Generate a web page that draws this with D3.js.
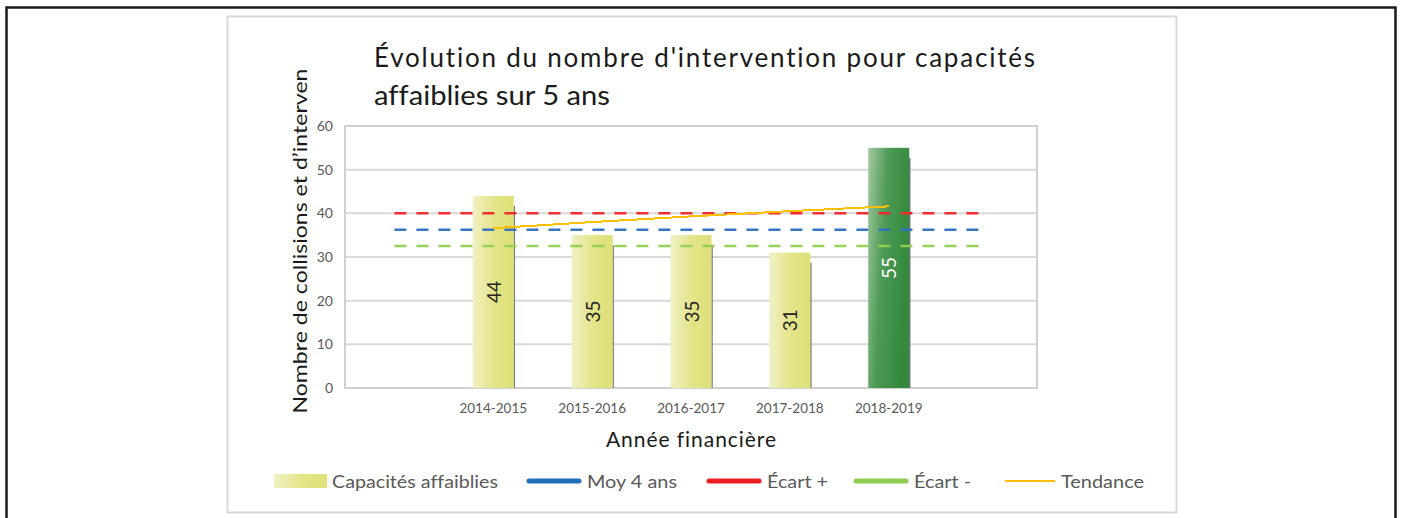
<!DOCTYPE html>
<html>
<head>
<meta charset="utf-8">
<script src="https://cdn.jsdelivr.net/npm/d3@7"></script>
<style>
  body { margin: 0; background: #fff; }
  svg { display: block; font-family: Lato, "Open Sans", sans-serif; font-variant-ligatures: none; }
</style>
</head>
<body>
<svg id="chart" width="1402" height="518"></svg>
<script>
// chart values
const years = ["2014-2015", "2015-2016", "2016-2017", "2017-2018", "2018-2019"];
const interventions = [44, 35, 35, 31, 55];
const moyenne = 36.25;      // Moy 4 ans
const ecartPlus = 40;       // Écart +
const ecartMoins = 32.5;    // Écart -
const tendance = [36.6, 38.0, 39.3, 40.5, 41.6];
const yTicks = [0, 10, 20, 30, 40, 50, 60];

const titleLines = ["Évolution du nombre d'intervention pour capacités", "affaiblies sur 5 ans"];
const yTitle = "Nombre de collisions et d’interven";
const xTitle = "Année financière";

const legendItems = [
  { label: "Capacités affaiblies", kind: "bar", color: "#e1e27c" },
  { label: "Moy 4 ans", kind: "line", color: "#1f6fbd" },
  { label: "Écart +", kind: "line", color: "#ee1d24" },
  { label: "Écart -", kind: "line", color: "#8fcc4f" },
  { label: "Tendance", kind: "thin", color: "#ffc000" }
];

const svg = d3.select("#chart");

// outer black frame and the chart box
svg.append("rect")
  .attr("x", 6.5).attr("y", 7.5)
  .attr("width", 1389).attr("height", 530)
  .attr("fill", "none").attr("stroke", "#1a1a1a").attr("stroke-width", 2.5);

svg.append("rect")
  .attr("x", 227.5).attr("y", 16.5)
  .attr("width", 949).attr("height", 496)
  .attr("fill", "#fff").attr("stroke", "#d9d9d9").attr("stroke-width", 2);

// gradients for the bars
const defs = svg.append("defs");
const yellowGrad = defs.append("linearGradient").attr("id", "yellowGrad")
  .attr("x1", "0").attr("y1", "0").attr("x2", "1").attr("y2", "0");
yellowGrad.append("stop").attr("offset", "0%").attr("stop-color", "#f0f0c4");
yellowGrad.append("stop").attr("offset", "55%").attr("stop-color", "#e3e486");
yellowGrad.append("stop").attr("offset", "100%").attr("stop-color", "#dfe078");

const greenGrad = defs.append("linearGradient").attr("id", "greenGrad")
  .attr("x1", "0").attr("y1", "0").attr("x2", "1").attr("y2", "0.35");
greenGrad.append("stop").attr("offset", "0%").attr("stop-color", "#a3c9a3");
greenGrad.append("stop").attr("offset", "45%").attr("stop-color", "#4d9a55");
greenGrad.append("stop").attr("offset", "100%").attr("stop-color", "#33893e");

// plot area
const plot = { left: 345, right: 1037, top: 126, bottom: 388 };

// blank slot on each side of the years, as in the original
const slots = ["pre"].concat(years, ["post"]);

const x = d3.scaleBand()
  .domain(slots)
  .range([plot.left, plot.right])
  .padding(0);

const y = d3.scaleLinear()
  .domain([0, 60])
  .range([plot.bottom, plot.top]);

const bw = x.bandwidth();
const barW = bw * 0.415;

// gridlines
svg.append("g")
  .selectAll("line")
  .data(yTicks.filter(d => d > 0 && d < 60))
  .join("line")
  .attr("x1", plot.left).attr("x2", plot.right)
  .attr("y1", d => y(d)).attr("y2", d => y(d))
  .attr("stroke", "#d9d9d9").attr("stroke-width", 2);

// plot frame
svg.append("rect")
  .attr("x", plot.left).attr("y", plot.top)
  .attr("width", plot.right - plot.left).attr("height", plot.bottom - plot.top)
  .attr("fill", "none").attr("stroke", "#d0d0d0").attr("stroke-width", 2);

// y axis labels
const yAxis = d3.axisLeft(y).tickValues(yTicks).tickSize(0).tickPadding(12);
const yG = svg.append("g")
  .attr("transform", `translate(${plot.left},0)`)
  .call(yAxis);
yG.select(".domain").remove();
yG.selectAll("text")
  .attr("font-size", "14px")
  .attr("fill", "#595959")
  .attr("font-family", "Lato, sans-serif");

// x axis labels
const xAxis = d3.axisBottom(x).tickSize(0).tickPadding(15)
  .tickFormat(d => years.includes(d) ? d : "");
const xG = svg.append("g")
  .attr("transform", `translate(0,${plot.bottom})`)
  .call(xAxis);
xG.select(".domain").remove();
xG.selectAll("text")
  .attr("font-size", "13.5px")
  .attr("fill", "#595959")
  .attr("font-family", "Lato, sans-serif");

// bars
const barData = years.map((yr, i) => ({ year: yr, value: interventions[i], last: i === years.length - 1 }));

svg.append("g")
  .selectAll("line")
  .data(barData)
  .join("line")
  .attr("x1", d => x(d.year) + bw / 2 + barW / 2 + 0.5)
  .attr("x2", d => x(d.year) + bw / 2 + barW / 2 + 0.5)
  .attr("y1", d => y(d.value) + 10)
  .attr("y2", plot.bottom)
  .attr("stroke", "#7a7a7a")
  .attr("stroke-width", 1.5);

svg.append("g")
  .selectAll("rect")
  .data(barData)
  .join("rect")
  .attr("x", d => x(d.year) + bw / 2 - barW / 2)
  .attr("y", d => y(d.value))
  .attr("width", barW)
  .attr("height", d => plot.bottom - y(d.value))
  .attr("fill", d => d.last ? "url(#greenGrad)" : "url(#yellowGrad)");

// reference lines
const refLines = [
  { value: ecartMoins, color: "#92d050" },
  { value: moyenne, color: "#2e6fc0" },
  { value: ecartPlus, color: "#f2262b" }
];

svg.append("g")
  .selectAll("line")
  .data(refLines)
  .join("line")
  .attr("x1", x("pre") + bw / 2)
  .attr("x2", x("post") + bw / 2)
  .attr("y1", d => y(d.value))
  .attr("y2", d => y(d.value))
  .attr("stroke", d => d.color)
  .attr("stroke-width", 2.5)
  .attr("stroke-dasharray", "12,10")
  .attr("opacity", 0.95);

// trend line
const trendLine = d3.line()
  .x((d, i) => x(years[i]) + bw / 2)
  .y(d => y(d));

svg.append("path")
  .datum(tendance)
  .attr("d", trendLine)
  .attr("fill", "none")
  .attr("stroke", "#ffc000")
  .attr("stroke-width", 2)
  .attr("shape-rendering", "crispEdges");

// labels inside the bars
svg.append("g")
  .selectAll("text")
  .data(barData)
  .join("text")
  .attr("transform", d => `translate(${x(d.year) + bw / 2},${(y(d.value) + plot.bottom) / 2}) rotate(-90)`)
  .attr("text-anchor", "middle")
  .attr("dominant-baseline", "central")
  .attr("font-size", "19px")
  .attr("fill", d => d.last ? "#ffffff" : "#262626")
  .text(d => d.value);

// title
svg.append("text")
  .attr("x", 374).attr("y", 67)
  .attr("font-size", "26px")
  .attr("fill", "#1a1a1a")
  .attr("textLength", 661)
  .attr("lengthAdjust", "spacing")
  .text(titleLines[0]);

svg.append("text")
  .attr("x", 374).attr("y", 105)
  .attr("font-size", "26px")
  .attr("fill", "#1a1a1a")
  .attr("textLength", 236)
  .attr("lengthAdjust", "spacingAndGlyphs")
  .text(titleLines[1]);

// axis titles
svg.append("text")
  .attr("transform", "translate(307,241) rotate(-90)")
  .attr("text-anchor", "middle")
  .attr("font-size", "20px")
  .attr("fill", "#1a1a1a")
  .attr("textLength", 345)
  .attr("lengthAdjust", "spacingAndGlyphs")
  .text(yTitle);

svg.append("text")
  .attr("x", (plot.left + plot.right) / 2)
  .attr("y", 447)
  .attr("text-anchor", "middle")
  .attr("font-size", "21px")
  .attr("fill", "#1a1a1a")
  .attr("textLength", 170)
  .attr("lengthAdjust", "spacing")
  .text(xTitle);

// legend
const legendX = [274, 527, 707, 854, 1003];
const legendTextW = [166, 90, 61, 57, 83];
const legend = svg.append("g");

legendItems.forEach((item, i) => {
  const g = legend.append("g").attr("transform", `translate(${legendX[i]},481)`);
  if (item.kind === "bar") {
    g.append("rect")
      .attr("x", 0).attr("y", -7)
      .attr("width", 53).attr("height", 14)
      .attr("fill", "url(#yellowGrad)");
  } else {
    g.append("line")
      .attr("x1", 2).attr("x2", 52)
      .attr("y1", 0).attr("y2", 0)
      .attr("stroke", item.color)
      .attr("stroke-width", item.kind === "thin" ? 2 : 5)
      .attr("stroke-linecap", item.kind === "thin" ? "butt" : "round");
  }
  g.append("text")
    .attr("x", item.kind === "bar" ? 58 : (item.kind === "thin" ? 58 : 60))
    .attr("y", 0)
    .attr("dominant-baseline", "central")
    .attr("font-size", "18px")
    .attr("fill", "#595959")
    .attr("textLength", legendTextW[i])
    .attr("lengthAdjust", "spacingAndGlyphs")
    .text(item.label);
});
</script>
</body>
</html>
